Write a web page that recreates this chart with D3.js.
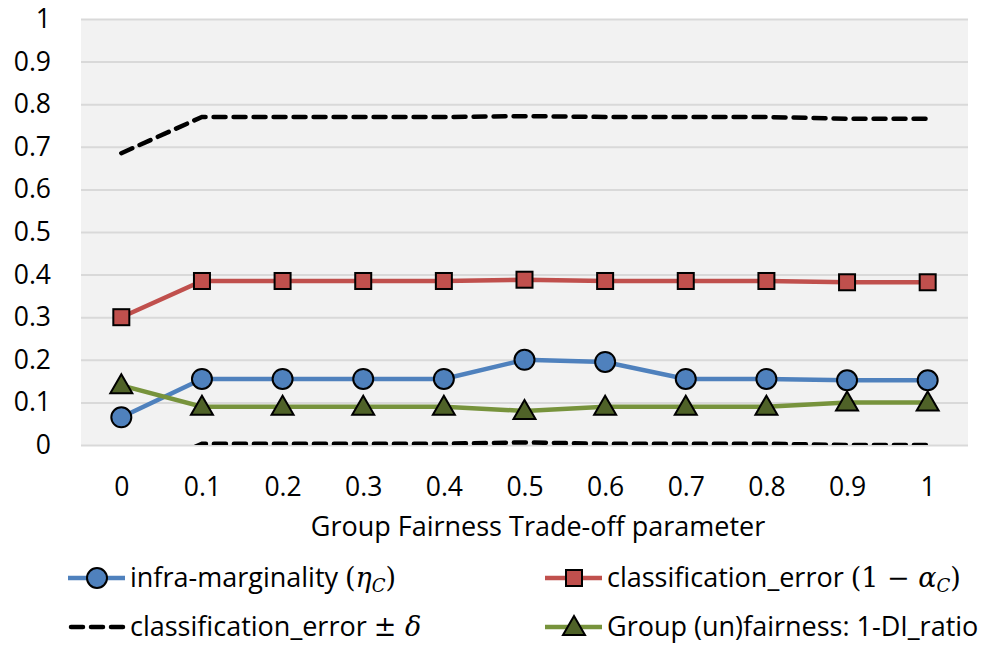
<!DOCTYPE html>
<html><head><meta charset="utf-8">
<script src="https://cdn.jsdelivr.net/npm/d3@7/dist/d3.min.js"></script>
<style>body{margin:0;background:#fff}text{font-family:"Open Sans","Liberation Sans",sans-serif}</style>
</head><body><svg id="c" width="1000" height="663"></svg>
<script>
const categories = ["0","0.1","0.2","0.3","0.4","0.5","0.6","0.7","0.8","0.9","1"];
const infraMarginality = [0.065,0.155,0.155,0.155,0.155,0.2,0.195,0.155,0.155,0.152,0.152];
const classificationError = [0.30,0.385,0.385,0.385,0.385,0.388,0.385,0.385,0.385,0.382,0.382];
const groupUnfairness = [0.14,0.09,0.09,0.09,0.09,0.08,0.09,0.09,0.09,0.10,0.10];
const errorUpper = [0.685,0.77,0.77,0.77,0.77,0.772,0.77,0.77,0.77,0.766,0.766];
const errorLower = [-0.08,0.003,0.003,0.003,0.003,0.006,0.003,0.003,0.003,0.0,0.0];
const yTicks = [0,0.1,0.2,0.3,0.4,0.5,0.6,0.7,0.8,0.9,1];
const yTickLabels = ["0","0.1","0.2","0.3","0.4","0.5","0.6","0.7","0.8","0.9","1"];

const FS=27;
const svg = d3.select("#c");
const L=81,R=968,T=19,B=445;
const x = d3.scalePoint().domain(categories).range([L,R]).padding(0.5);
const y = d3.scaleLinear().domain([0,1]).range([B,T]);

svg.append("rect").attr("x",L).attr("y",T).attr("width",R-L).attr("height",B-T).attr("fill","#F2F2F2");
svg.append("defs").append("clipPath").attr("id","clip").append("rect").attr("x",L).attr("y",T-10).attr("width",R-L).attr("height",B-T+10);

const ya = svg.append("g").attr("transform",`translate(${L},0)`)
  .call(d3.axisLeft(y).tickValues(yTicks).tickSize(-(R-L)).tickFormat((d,i)=>yTickLabels[i]));
ya.select(".domain").remove();
ya.selectAll(".tick line").attr("stroke","#D9D9D9").attr("stroke-width",2);
ya.selectAll(".tick text").attr("x",-30).attr("font-size",26.5).attr("fill","#000");

const xa = svg.append("g").attr("transform",`translate(0,${B})`).call(d3.axisBottom(x).tickSize(0));
xa.select(".domain").remove();
xa.selectAll(".tick text").attr("dy",0).attr("y",51).attr("font-size",26.5).attr("fill","#000");

svg.append("text").attr("x",538).attr("y",536).attr("text-anchor","middle").attr("font-size",FS).text("Group Fairness Trade-off parameter");

const line = d3.line().x((d,i)=>x(categories[i])).y(d=>y(d));
const plot = svg.append("g").attr("clip-path","url(#clip)");
[errorUpper,errorLower].forEach(s=>{
  plot.append("path").attr("d",line(s)).attr("fill","none").attr("stroke","#000").attr("stroke-width",4.5).attr("stroke-dasharray","12,8").attr("stroke-linecap","round");
});
const series=[
  {v:infraMarginality,c:"#4F81BD",f:"#4F81BD",m:"circle"},
  {v:classificationError,c:"#C0504D",f:"#C0504D",m:"square"},
  {v:groupUnfairness,c:"#77933C",f:"#4F6228",m:"triangle"}
];
function marker(g,m,f,cx,cy){
  if(m==="circle") g.append("circle").attr("cx",cx).attr("cy",cy).attr("r",10).attr("fill",f).attr("stroke","#000").attr("stroke-width",2);
  else if(m==="square") g.append("rect").attr("x",cx-8).attr("y",cy-8).attr("width",16).attr("height",16).attr("fill",f).attr("stroke","#000").attr("stroke-width",2);
  else g.append("path").attr("d",`M${cx},${cy-11}L${cx+11},${cy+8}L${cx-11},${cy+8}Z`).attr("fill",f).attr("stroke","#000").attr("stroke-width",2);
}
series.forEach(s=>{
  svg.append("path").attr("d",line(s.v)).attr("fill","none").attr("stroke",s.c).attr("stroke-width",4.5);
});
series.forEach(s=>{
  s.v.forEach((d,i)=>marker(svg,s.m,s.f,x(categories[i]),y(d)));
});

function legText(xp,yp,parts){
  const t=svg.append("text").attr("x",xp).attr("y",yp).attr("font-size",FS);
  parts.forEach(p=>{const ts=t.append("tspan").text(p.t); if(p.math){ts.attr("font-family","'DejaVu Serif','Liberation Serif',serif").attr("font-size",27);} if(p.it) ts.attr("font-style","italic"); if(p.sub) ts.attr("font-size",18).attr("dy",5); if(p.up) ts.attr("dy",-5);});
}
const lg=[
  {x:68,y:578,type:"circle",c:"#4F81BD",f:"#4F81BD",parts:[{t:"infra-marginality "},{t:"(",math:1},{t:"η",math:1,it:1},{t:"C",math:1,it:1,sub:1},{t:")",math:1,up:1}]},
  {x:545,y:578,type:"square",c:"#C0504D",f:"#C0504D",parts:[{t:"classification_error "},{t:"(1 − ",math:1},{t:"α",math:1,it:1},{t:"C",math:1,it:1,sub:1},{t:")",math:1,up:1}]},
  {x:68,y:627,type:"dash",c:"#000",parts:[{t:"classification_error "},{t:"± ",math:1},{t:"δ",math:1,it:1}]},
  {x:545,y:627,type:"triangle",c:"#77933C",f:"#4F6228",parts:[{t:"Group (un)fairness: 1-DI_ratio"}]}
];
lg.forEach(l=>{
  const p=svg.append("line").attr("x1",l.x).attr("x2",l.x+57).attr("y1",l.y).attr("y2",l.y).attr("stroke",l.c).attr("stroke-width",4.5);
  if(l.type==="dash") p.attr("stroke-dasharray","12,8").attr("stroke-linecap","round").attr("x1",l.x+3);
  else marker(svg,l.type,l.f,l.x+29,l.y);
  legText(l.x+62,l.y+9,l.parts);
});
</script></body></html>
